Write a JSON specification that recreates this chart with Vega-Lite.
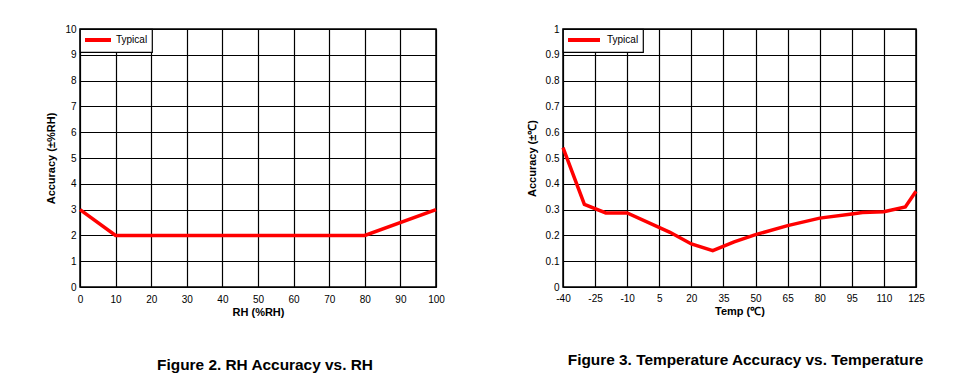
{
  "$schema": "https://vega.github.io/schema/vega-lite/v6.json",
  "background": "white",
  "padding": {"left": 45, "top": 23, "right": 0, "bottom": 0},
  "spacing": 79,
  "config": {
    "font": "Liberation Sans",
    "view": {"stroke": "black", "strokeWidth": 1.5},
    "axis": {
      "grid": true, "gridColor": "black", "gridOpacity": 1, "gridWidth": 1.2,
      "ticks": false, "domain": false, "labelFlush": false, "labelOverlap": false,
      "labelColor": "black", "labelFontSize": 10, "labelFont": "Liberation Sans", "labelPadding": 4,
      "titleFont": "Liberation Sans", "titleFontSize": 11, "titleFontWeight": "bold", "titleColor": "black"
    },
    "axisY": {"titlePadding": 8},
    "legend": {
      "orient": "none", "legendX": 0, "legendY": 0, "strokeColor": "black", "fillColor": "white",
      "strokeWidth": 1.2, "padding": 4, "symbolStrokeWidth": 4, "symbolSize": 100,
      "labelFontSize": 10, "labelColor": "black", "labelFont": "Liberation Sans"
    },
    "title": {"orient": "bottom", "fontSize": 15.4, "fontWeight": "bold", "color": "black", "font": "Liberation Sans", "anchor": "middle"}
  },
  "resolve": {"scale": {"color": "independent"}, "legend": {"color": "independent"}},
  "hconcat": [
    {
      "width": 356, "height": 258,
      "title": {"text": "Figure 2. RH Accuracy vs. RH", "dx": 7, "offset": 41},
      "data": {"values": [
        {"rh": 0, "acc": 3}, {"rh": 10, "acc": 2}, {"rh": 80, "acc": 2}, {"rh": 100, "acc": 3}
      ]},
      "mark": {"type": "line", "strokeWidth": 3.5, "clip": false},
      "encoding": {
        "x": {"field": "rh", "type": "quantitative", "scale": {"domain": [0, 100], "nice": false},
          "axis": {"values": [0, 10, 20, 30, 40, 50, 60, 70, 80, 90, 100], "title": "RH (%RH)", "labelExpr": "datum.value + ''", "labelPadding": 7, "titlePadding": 2}},
        "y": {"field": "acc", "type": "quantitative", "scale": {"domain": [0, 10], "nice": false},
          "axis": {"values": [0, 1, 2, 3, 4, 5, 6, 7, 8, 9, 10], "title": "Accuracy (±%RH)", "labelExpr": "datum.value + ''"}},
        "color": {"datum": "Typical", "scale": {"range": ["#ff0000"]},
          "legend": {"title": null, "orient": "none", "legendX": 0, "legendY": 0,
            "symbolType": "M-1.2,0H4", "labelOffset": 18}}
      }
    },
    {
      "width": 353, "height": 258,
      "title": {"text": "Figure 3. Temperature Accuracy vs. Temperature", "dx": 6, "offset": 37},
      "data": {"values": [
        {"t": -40, "acc": 0.54}, {"t": -30, "acc": 0.32}, {"t": -20, "acc": 0.287}, {"t": -10, "acc": 0.287},
        {"t": 10, "acc": 0.212}, {"t": 20, "acc": 0.167}, {"t": 30, "acc": 0.141}, {"t": 40, "acc": 0.175},
        {"t": 50, "acc": 0.203}, {"t": 65, "acc": 0.238}, {"t": 80, "acc": 0.267}, {"t": 95, "acc": 0.283},
        {"t": 100, "acc": 0.289}, {"t": 110, "acc": 0.292}, {"t": 120, "acc": 0.31}, {"t": 125, "acc": 0.371}
      ]},
      "mark": {"type": "line", "strokeWidth": 3.5, "clip": false},
      "encoding": {
        "x": {"field": "t", "type": "quantitative", "scale": {"domain": [-40, 125], "nice": false, "zero": false},
          "axis": {"values": [-40, -25, -10, 5, 20, 35, 50, 65, 80, 95, 110, 125], "title": "Temp (℃)", "labelExpr": "datum.value + ''", "labelPadding": 6, "titlePadding": 2}},
        "y": {"field": "acc", "type": "quantitative", "scale": {"domain": [0, 1], "nice": false},
          "axis": {"values": [0, 0.1, 0.2, 0.3, 0.4, 0.5, 0.6, 0.7, 0.8, 0.9, 1], "title": "Accuracy (±℃)", "labelExpr": "datum.value + ''"}},
        "color": {"datum": "Typical", "scale": {"range": ["#ff0000"]},
          "legend": {"title": null, "orient": "none", "legendX": 0, "legendY": 0,
            "symbolType": "M-1.2,0H5.2", "labelOffset": 26}}
      }
    }
  ]
}
